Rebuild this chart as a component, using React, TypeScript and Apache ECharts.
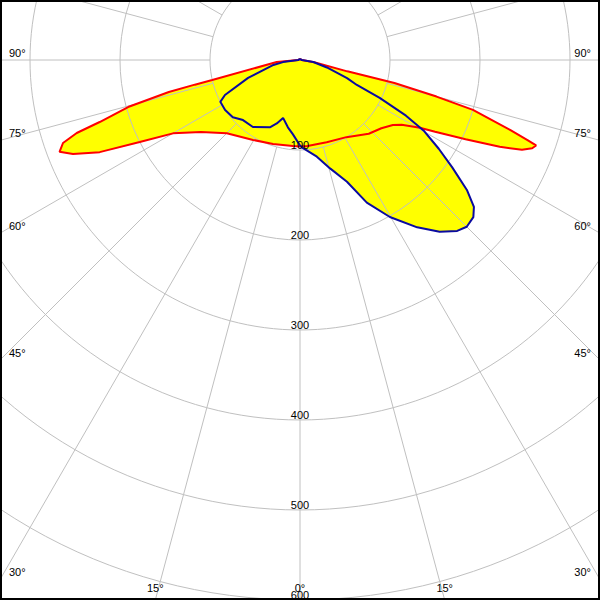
import React, { useEffect, useRef } from "react";
import * as echarts from "echarts";

// ---- data (gamma in degrees from nadir, + = right half, intensity in cd/klm) ----
const radialTicks = [100, 200, 300, 400, 500, 600];
const angleTickLabels = [0, 15, 30, 45, 60, 75, 90];

const redPlane: [number, number][] = [
  [0, 96], [5, 96], [18, 96], [31, 100], [43, 112], [50, 118], [55, 126], [57.5, 134],
  [60.5, 153], [62, 170], [64.4, 204], [66.5, 242], [68, 266], [69.2, 276], [70.1, 279],
  [70.6, 268], [71.6, 246], [73.9, 200], [75, 157], [76.3, 108], [76.5, 54], [81, 16],
  [90, 2], [135, 1], [180, 1],
  [-180, 1], [-135, 1], [-90, 2], [-85, 26], [-77.2, 100], [-76.8, 120], [-76.3, 150],
  [-74.7, 198], [-72.8, 233], [-71.9, 261], [-70.7, 279], [-69.1, 286], [-67.5, 273],
  [-65.3, 245], [-62.9, 200], [-60, 163], [-54, 136], [-45, 115], [-30.4, 103],
  [-17.8, 98], [-4.7, 96],
];

const bluePlane: [number, number][] = [
  [0, 95], [2, 98], [9.9, 109], [15.5, 125], [21.1, 145], [25.1, 175], [29.8, 201],
  [35, 227], [39.1, 246], [42.6, 258], [45, 262], [47.8, 260], [49.8, 253], [52.1, 235],
  [54.8, 207], [57.4, 183], [60.3, 158], [62.3, 133], [64.6, 98], [66.3, 69], [69, 56],
  [74.5, 31], [81.3, 15], [90, 2], [135, 1], [180, 1],
  [-180, 1], [-135, 1], [-90, 2], [-83, 19], [-79.5, 30], [-71, 61], [-65, 92],
  [-62.3, 100], [-56.3, 100], [-49.6, 98], [-43.5, 92], [-35.1, 91], [-24.1, 82],
  [-20.1, 75], [-16.3, 67], [-10.2, 76], [-5.4, 83],
];

// ---- layout ----
const W = 600;
const H = 600;
const CX = 300;
const CY = 60;
const RADIUS_PX = 540;
const R_MAX = 600;
const GRID = "#c0c0c0";
const FONT_FAMILY = '"Liberation Sans", Arial, sans-serif';

function toPolarData(plane: [number, number][]) {
  const pts = plane.map(([g, v]) => [v, g >= 0 ? g : 360 + g]);
  const first = plane[0];
  pts.push([first[1], 360]);
  return pts;
}

function angleLabelGraphics() {
  const out: any[] = [];
  for (const g of angleTickLabels) {
    const sides = g === 0 ? [1] : [-1, 1];
    for (const s of sides) {
      const rad = (g * Math.PI) / 180;
      const dx = s * Math.sin(rad);
      const dy = Math.cos(rad);
      const tX = Math.abs(dx) > 1e-9 ? (dx > 0 ? W - CX : CX) / Math.abs(dx) : Infinity;
      const tY = dy > 1e-9 ? (H - CY) / dy : Infinity;
      let x: number, y: number, align: string;
      if (tX < tY) {
        y = CY + dy * tX - 2;
        x = s < 0 ? 9 : W - 9;
        align = s < 0 ? "left" : "right";
      } else {
        x = CX + dx * tY;
        y = H - 7;
        align = "center";
      }
      out.push({
        type: "text",
        x,
        y,
        z: 20,
        style: {
          text: g + "°",
          fill: "#000",
          font: "11px " + FONT_FAMILY,
          align,
          textAlign: align,
          verticalAlign: "bottom",
          textVerticalAlign: "bottom",
        },
      });
    }
  }
  return out;
}

const hiddenAngle = {
  type: "value",
  min: 0,
  max: 360,
  startAngle: 270,
  clockwise: false,
  axisLine: { show: false },
  axisTick: { show: false },
  axisLabel: { show: false },
  splitLine: { show: false },
};

export default function App() {
  const ref = useRef<HTMLDivElement>(null);
  useEffect(() => {
    if (!ref.current) return;
    const chart = echarts.init(ref.current, undefined, { renderer: "svg" });
    const redData = toPolarData(redPlane);
    const blueData = toPolarData(bluePlane);
    chart.setOption({
      animation: false,
      backgroundColor: "#fff",
      polar: [
        { center: [CX, CY], radius: RADIUS_PX },
        { center: [CX, CY], radius: [RADIUS_PX * 100 / R_MAX, 720] },
        { center: [CX, CY], radius: RADIUS_PX },
      ],
      angleAxis: [
        { ...hiddenAngle, polarIndex: 0 },
        {
          ...hiddenAngle,
          polarIndex: 1,
          interval: 15,
          z: 2,
          splitLine: { show: true, lineStyle: { color: GRID, width: 1 } },
        },
        { ...hiddenAngle, polarIndex: 2 },
      ],
      radiusAxis: [
        {
          polarIndex: 0,
          type: "value",
          min: 0,
          max: R_MAX,
          interval: 100,
          z: 2,
          axisLine: { show: false },
          axisTick: { show: false },
          axisLabel: { show: false },
          splitLine: { show: true, lineStyle: { color: GRID, width: 1 } },
        },
        {
          polarIndex: 1,
          type: "value",
          min: 0,
          max: 700,
          axisLine: { show: false },
          axisTick: { show: false },
          axisLabel: { show: false },
          splitLine: { show: false },
        },
        {
          polarIndex: 2,
          type: "value",
          min: 0,
          max: R_MAX,
          interval: 100,
          z: 10,
          axisLine: { show: false },
          axisTick: { show: false },
          splitLine: { show: false },
          axisLabel: {
            show: true,
            margin: 0,
            color: "#000",
            fontSize: 11,
            fontFamily: FONT_FAMILY,
            align: "center",
            verticalAlign: "bottom",
            formatter: (v: number) => (radialTicks.includes(v) ? String(v) : ""),
          },
        },
      ],
      series: [
        {
          type: "line",
          coordinateSystem: "polar",
          polarIndex: 0,
          data: redData,
          symbol: "none",
          smooth: false,
          z: 1,
          silent: true,
          lineStyle: { width: 0, opacity: 0 },
          areaStyle: { color: "#ffff00", opacity: 1 },
        },
        {
          type: "line",
          coordinateSystem: "polar",
          polarIndex: 0,
          data: blueData,
          symbol: "none",
          smooth: false,
          z: 1,
          silent: true,
          lineStyle: { width: 0, opacity: 0 },
          areaStyle: { color: "#ffff00", opacity: 1 },
        },
        {
          type: "line",
          coordinateSystem: "polar",
          polarIndex: 0,
          data: redData,
          symbol: "none",
          smooth: false,
          z: 4,
          silent: true,
          lineStyle: { color: "#ff0000", width: 2 },
        },
        {
          type: "line",
          coordinateSystem: "polar",
          polarIndex: 0,
          data: blueData,
          symbol: "none",
          smooth: false,
          z: 5,
          silent: true,
          lineStyle: { color: "#0a0aa0", width: 2 },
        },
      ],
      graphic: [
        ...angleLabelGraphics(),
        {
          type: "rect",
          z: 30,
          shape: { x: 1, y: 1, width: W - 2, height: H - 2 },
          style: { fill: "none", stroke: "#000", lineWidth: 2 },
        },
      ],
    });
    return () => chart.dispose();
  }, []);
  return (
    <div
      ref={ref}
      style={{ position: "absolute", left: 0, top: 0, width: W, height: H, background: "#fff" }}
    />
  );
}
